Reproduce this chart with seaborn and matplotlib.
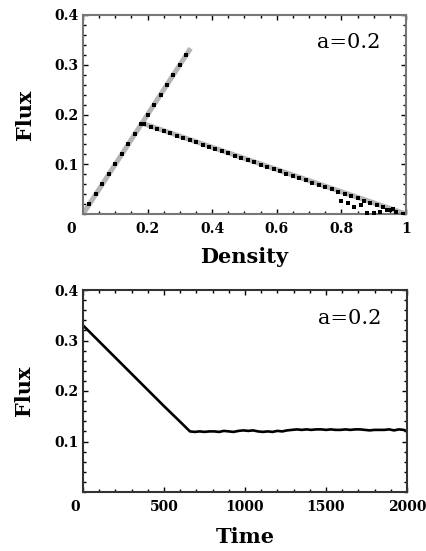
import numpy as np
import pandas as pd
import matplotlib
matplotlib.use("Agg")
import matplotlib.pyplot as plt
import matplotlib.transforms as mtrans
from matplotlib.ticker import MultipleLocator, FixedLocator
import seaborn as sns

# ---------------- data ----------------
# top panel: simulated points, free-flow branch
rise_density = [0.02, 0.04, 0.06, 0.08, 0.10, 0.12, 0.14, 0.16, 0.18, 0.20,
                0.22, 0.24, 0.26, 0.28, 0.30, 0.32]
rise_flux = [0.02, 0.04, 0.06, 0.08, 0.10, 0.12, 0.14, 0.16, 0.18, 0.20,
             0.22, 0.24, 0.26, 0.28, 0.30, 0.32]
# congested branch
jam_density = [0.19, 0.21, 0.23, 0.25, 0.27, 0.29, 0.31, 0.33, 0.35, 0.37,
               0.39, 0.41, 0.43, 0.45, 0.47, 0.49, 0.51, 0.53, 0.55, 0.57,
               0.59, 0.61, 0.63, 0.65, 0.67, 0.69, 0.71, 0.73, 0.75, 0.77,
               0.79, 0.81, 0.83, 0.85, 0.87, 0.89, 0.91, 0.93, 0.95, 0.97, 0.99,
               0.80, 0.82, 0.84, 0.86, 0.88, 0.90, 0.92, 0.94, 0.96]
jam_flux = [0.181, 0.175, 0.171, 0.166, 0.162, 0.157, 0.153, 0.148, 0.144, 0.139,
            0.135, 0.131, 0.126, 0.122, 0.117, 0.113, 0.108, 0.104, 0.099, 0.095,
            0.090, 0.086, 0.081, 0.077, 0.072, 0.068, 0.063, 0.059, 0.054, 0.050,
            0.045, 0.041, 0.036, 0.032, 0.027, 0.023, 0.018, 0.014, 0.009, 0.005, 0.001,
            0.027, 0.022, 0.015, 0.018, 0.003, 0.003, 0.004, 0.008, 0.010]
# theory lines (grey)
theory_free_density = [0.0, 0.333]
theory_free_flux = [0.0, 0.333]
theory_jam_density = [0.19, 1.0]
theory_jam_flux = [0.181, 0.0]

# bottom panel: flux vs time
time = [0, 100, 200, 300, 400, 500, 600, 660, 690, 720, 750, 780, 810, 840,
        870, 900, 930, 960, 990, 1020, 1050, 1080, 1110, 1140, 1170, 1200,
        1230, 1260, 1290, 1320, 1350, 1380, 1410, 1440, 1470, 1500, 1530,
        1560, 1590, 1620, 1650, 1680, 1710, 1740, 1770, 1800, 1830, 1860,
        1890, 1920, 1950, 1980, 2000]
flux_t = [0.330, 0.298, 0.266, 0.234, 0.202, 0.170, 0.139, 0.120, 0.119, 0.120,
          0.119, 0.120, 0.120, 0.119, 0.121, 0.120, 0.119, 0.121, 0.122, 0.121,
          0.122, 0.120, 0.119, 0.120, 0.119, 0.121, 0.120, 0.122, 0.123, 0.124,
          0.123, 0.124, 0.123, 0.124, 0.124, 0.123, 0.124, 0.123, 0.123, 0.124,
          0.123, 0.124, 0.124, 0.123, 0.122, 0.123, 0.123, 0.123, 0.124, 0.122,
          0.124, 0.123, 0.120]

annotation = "a=0.2"

# ---------------- style ----------------
sns.set_style("white")
plt.rcParams["font.family"] = ["DejaVu Serif"]
plt.rcParams["text.color"] = "black"
plt.rcParams["axes.labelcolor"] = "black"
plt.rcParams["xtick.color"] = "black"
plt.rcParams["ytick.color"] = "black"

fig = plt.figure(figsize=(4.27, 5.51), dpi=100)
ax1 = fig.add_axes([83 / 427, 1 - 214 / 551, 323 / 427, 199 / 551])
ax2 = fig.add_axes([83 / 427, 1 - 492 / 551, 324 / 427, 202 / 551])

grey = "#b4b4b4"
sns.lineplot(x=theory_free_density, y=theory_free_flux, ax=ax1, color=grey,
             linewidth=3.6, solid_capstyle="butt", zorder=2)
sns.lineplot(x=theory_jam_density, y=theory_jam_flux, ax=ax1, color=grey,
             linewidth=3.6, solid_capstyle="butt", zorder=2)
sns.scatterplot(x=rise_density, y=rise_flux, ax=ax1, color="black", marker="s",
                s=7, linewidth=0, zorder=3)
sns.scatterplot(x=jam_density, y=jam_flux, ax=ax1, color="black", marker="s",
                s=11, linewidth=0, zorder=3)

df_t = pd.DataFrame({"Time": time, "Flux": flux_t})
sns.lineplot(data=df_t, x="Time", y="Flux", ax=ax2, color="black", linewidth=1.9)

def style_axes(ax, xlim, xmaj, xmin, xlabel, label_y, spine_color):
    ax.set_xlim(*xlim)
    ax.set_ylim(0, 0.4)
    ax.xaxis.set_major_locator(MultipleLocator(xmaj))
    ax.xaxis.set_minor_locator(MultipleLocator(xmin))
    ax.yaxis.set_major_locator(FixedLocator([0.1, 0.2, 0.3, 0.4]))
    ax.yaxis.set_minor_locator(MultipleLocator(0.02))
    ax.tick_params(which="both", direction="in", top=True, right=True,
                   bottom=True, left=True, color="black", width=1.0)
    ax.tick_params(which="major", length=3.5)
    ax.tick_params(which="minor", length=2)
    ax.tick_params(axis="x", which="major", pad=5.5, labelsize=10)
    ax.tick_params(axis="y", which="major", pad=3.5, labelsize=10)
    for sp in ax.spines.values():
        sp.set_color(spine_color)
        sp.set_linewidth(1.5)
        sp.set_visible(True)
    ax.set_xlabel(xlabel, fontsize=15, fontweight="bold")
    ax.set_ylabel("Flux", fontsize=15, fontweight="bold")
    ax.xaxis.set_label_coords(0.5, label_y)
    ax.yaxis.set_label_coords(-0.15, 0.5)
    ax.text(0.92, 0.86, annotation, transform=ax.transAxes, fontsize=15,
            ha="right", va="center")

style_axes(ax1, (0, 1), 0.2, 0.05, "Density", -0.165, "#777777")
style_axes(ax2, (0, 2000), 500, 100, "Time", -0.172, "#333333")

ax1.set_xticks([0, 0.2, 0.4, 0.6, 0.8, 1.0])
ax1.set_xticklabels(["0", "0.2", "0.4", "0.6", "0.8", "1"], fontweight="bold")
ax2.set_xticks([0, 500, 1000, 1500, 2000])
ax2.set_xticklabels(["0", "500", "1000", "1500", "2000"], fontweight="bold")
ax1.set_yticks([0.1, 0.2, 0.3, 0.4])
ax1.set_yticklabels(["0.1", "0.2", "0.3", "0.4"], fontweight="bold")
ax2.set_yticks([0.1, 0.2, 0.3, 0.4])
ax2.set_yticklabels(["0.1", "0.2", "0.3", "0.4"], fontweight="bold")

for ax, dx in ((ax1, -12), (ax2, -8)):
    lab = ax.get_xticklabels()[0]
    lab.set_transform(lab.get_transform() +
                      mtrans.ScaledTranslation(dx / 100, 0, fig.dpi_scale_trans))

fig.savefig("out.png", dpi=100, facecolor="white")
